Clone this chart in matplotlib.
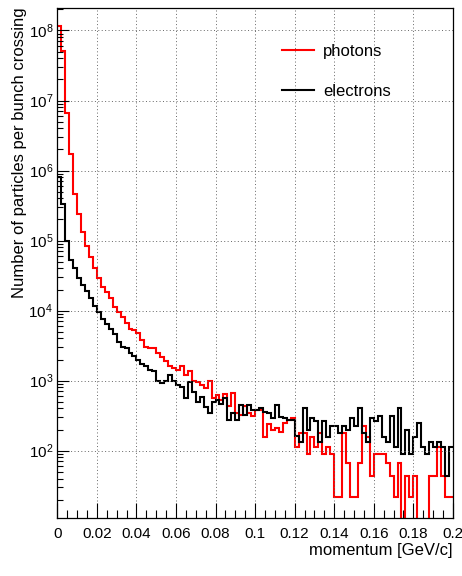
import numpy as np
import matplotlib
matplotlib.use("Agg")
import matplotlib.pyplot as plt
from matplotlib.ticker import FixedLocator, LogLocator, NullFormatter, FuncFormatter

# ---- data -------------------------------------------------------------
x_min, x_max, n_bins = 0.0, 0.2, 100

photons = [
    1.16e8, 5.1e7, 6.6e6, 1.7e6, 4.55e5, 2.37e5, 1.34e5, 8.3e4, 5.75e4, 4.0e4,
    2.95e4, 2.2e4, 1.86e4, 1.53e4, 1.12e4, 9.5e3, 8.0e3, 6.6e3, 5.4e3, 5.25e3,
    4.8e3, 3.85e3, 3.0e3, 2.95e3, 2.95e3, 2.5e3, 2.2e3, 1.9e3, 1.6e3, 1.5e3,
    1.4e3, 1.6e3, 1.2e3, 1.35e3, 1.0e3, 960, 860, 780, 1.0e3, 560,
    620, 530, 650, 440, 660, 340, 320, 440, 340, 310,
    380, 380, 155, 240, 200, 210, 185, 245, 270, 290,
    113, 180, 180, 89, 157, 113, 180, 89, 111, 89,
    22, 22, 180, 66, 22, 22, 66, 224, 157, 44,
    89, 89, 89, 66, 44, 22, 66, 0, 44, 22,
    44, 0, 0, 0, 44, 44, 111, 44, 22, 22,
]

electrons = [
    8.2e5, 3.3e5, 9.9e4, 5.3e4, 4.0e4, 2.95e4, 2.35e4, 1.93e4, 1.53e4, 1.17e4,
    9.5e3, 7.6e3, 6.5e3, 5.5e3, 4.6e3, 3.55e3, 3.05e3, 2.95e3, 2.5e3, 2.25e3,
    2.0e3, 1.75e3, 1.6e3, 1.4e3, 1.35e3, 1.0e3, 910, 1.0e3, 1.2e3, 1.0e3,
    860, 815, 560, 960, 690, 500, 590, 420, 340, 500,
    525, 470, 560, 270, 340, 270, 450, 320, 450, 380,
    380, 400, 360, 340, 290, 450, 305, 290, 270, 270,
    160, 133, 400, 200, 290, 267, 133, 267, 155, 222,
    222, 178, 222, 200, 290, 222, 400, 178, 133, 290,
    267, 311, 155, 133, 311, 111, 400, 89, 200, 89,
    155, 245, 111, 89, 133, 111, 133, 111, 44, 111,
]

x_ticks = [0.0, 0.02, 0.04, 0.06, 0.08, 0.1, 0.12, 0.14, 0.16, 0.18, 0.2]
y_ticks = [1e2, 1e3, 1e4, 1e5, 1e6, 1e7, 1e8]
labels = ["photons", "electrons"]
colors = ["#ff0000", "#000000"]

# ---- style ------------------------------------------------------------
plt.rcParams["font.family"] = ["Liberation Sans", "DejaVu Sans"]
plt.rcParams["mathtext.fontset"] = "custom"
plt.rcParams["mathtext.rm"] = "Liberation Sans"
plt.rcParams["mathtext.it"] = "Liberation Sans:italic"

fig = plt.figure(figsize=(4.62, 5.76), dpi=100)
W, H = 462, 576
left, right, top, bottom = 57.3, 452.9, 7.5, 517.5
ax = fig.add_axes([left / W, 1 - bottom / H, (right - left) / W, (bottom - top) / H])

edges = np.linspace(x_min, x_max, n_bins + 1)
for vals, lab, col in zip([photons, electrons], labels, colors):
    ax.stairs(np.asarray(vals, dtype=float), edges, baseline=None,
              color=col, linewidth=1.5, label=lab)

ax.set_yscale("log", nonpositive="clip")
ax.set_xlim(x_min, x_max)
ax.set_ylim(11.1, 2.13e8)

ax.xaxis.set_major_locator(FixedLocator(x_ticks))
ax.xaxis.set_minor_locator(FixedLocator(np.arange(0, 0.2001, 0.005)))
ax.xaxis.set_major_formatter(FuncFormatter(lambda v, p: "%g" % round(v, 3)))
ax.yaxis.set_major_locator(FixedLocator(y_ticks))
ax.yaxis.set_minor_locator(LogLocator(base=10, subs=np.arange(2, 10)))
ax.yaxis.set_minor_formatter(NullFormatter())
ax.yaxis.set_major_formatter(FuncFormatter(lambda v, p: r"$10^{%d}$" % round(np.log10(v))))

ax.tick_params(axis="both", which="both", direction="in", top=False, right=False,
               labelsize=11, width=0.8, color="#000000")
ax.tick_params(axis="x", which="major", length=11, pad=6.5)
ax.tick_params(axis="x", which="minor", length=5.5)
ax.tick_params(axis="y", which="major", length=8.6, pad=3)
ax.tick_params(axis="y", which="minor", length=4.3)

ax.grid(True, which="major", linestyle=(0, (1, 2.5)), color="#666666", linewidth=0.7)
for s in ax.spines.values():
    s.set_linewidth(0.9)

ax.set_xlabel("momentum [GeV/c]", fontsize=12, loc="right", labelpad=2)
ax.set_ylabel("Number of particles per bunch crossing", fontsize=12, loc="top", labelpad=1)

ax.legend(loc="upper left", bbox_to_anchor=(0.568, 0.929), frameon=False,
          fontsize=12, handlelength=1.9, handletextpad=0.55, labelspacing=1.5,
          borderpad=0, borderaxespad=0)

fig.savefig("out.png", dpi=100)
